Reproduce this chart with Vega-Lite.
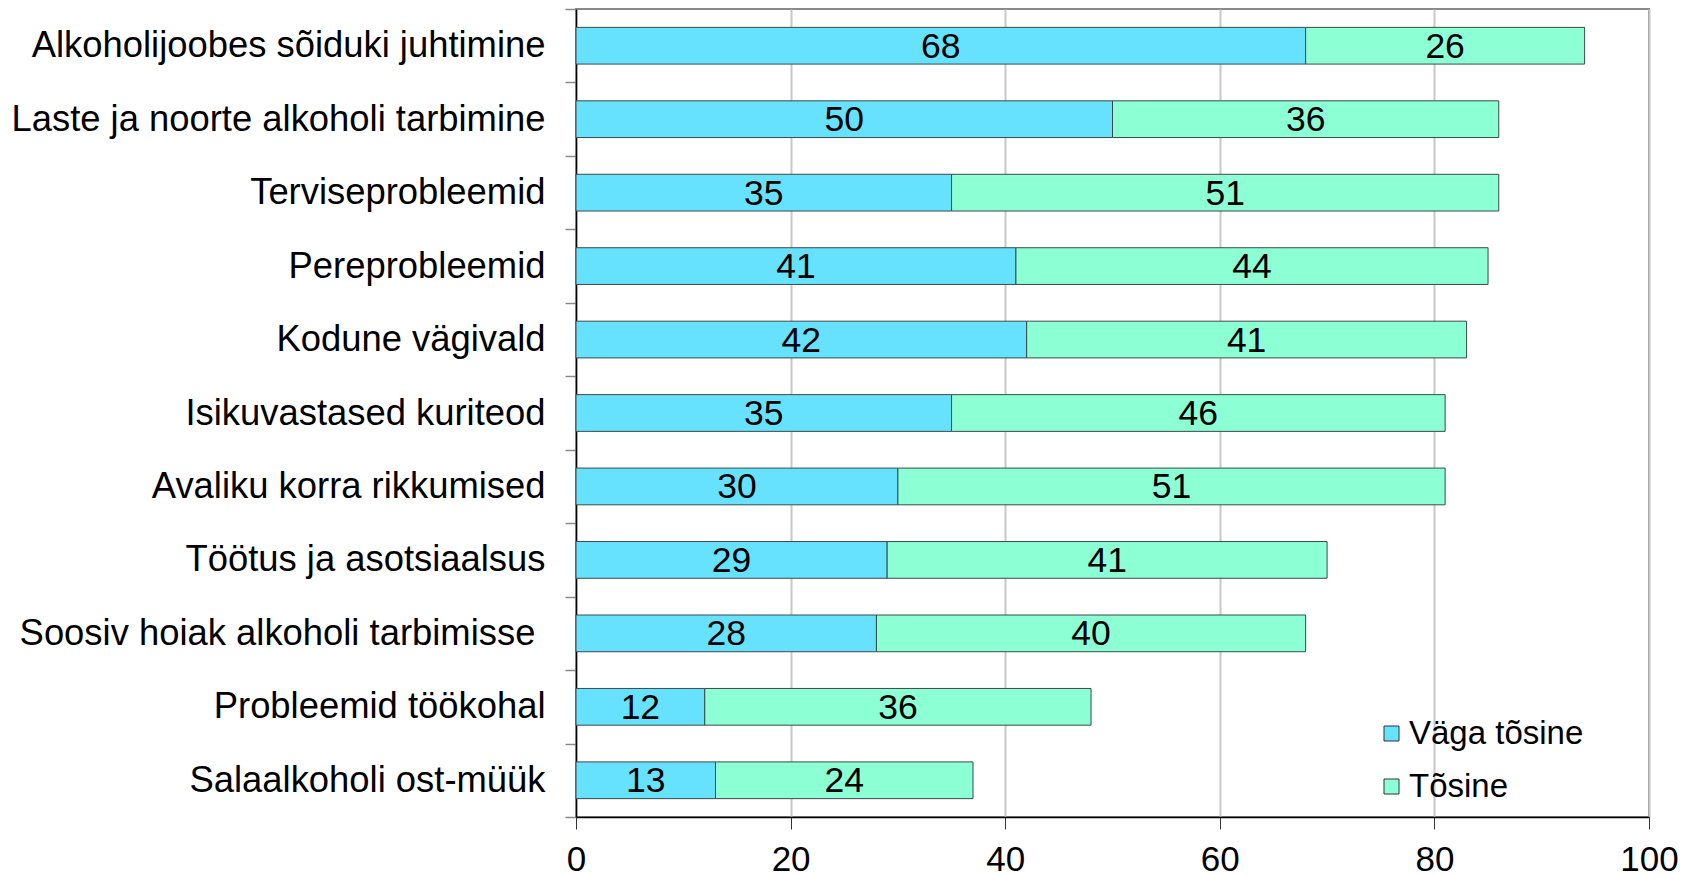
{
  "$schema": "https://vega.github.io/schema/vega-lite/v6.json",
  "width": 1073,
  "height": 808,
  "autosize": {"type": "none"},
  "padding": {"left": 576, "top": 9, "right": 43, "bottom": 60},
  "background": "white",
  "config": {
    "font": "Liberation Sans",
    "view": {"stroke": "#8a8a8a", "strokeWidth": 2}
  },
  "data": {
    "values": [
      {"cat": "Alkoholijoobes sõiduki juhtimine", "series": "Väga tõsine", "value": 68},
      {"cat": "Alkoholijoobes sõiduki juhtimine", "series": "Tõsine", "value": 26},
      {"cat": "Laste ja noorte alkoholi tarbimine", "series": "Väga tõsine", "value": 50},
      {"cat": "Laste ja noorte alkoholi tarbimine", "series": "Tõsine", "value": 36},
      {"cat": "Terviseprobleemid", "series": "Väga tõsine", "value": 35},
      {"cat": "Terviseprobleemid", "series": "Tõsine", "value": 51},
      {"cat": "Pereprobleemid", "series": "Väga tõsine", "value": 41},
      {"cat": "Pereprobleemid", "series": "Tõsine", "value": 44},
      {"cat": "Kodune vägivald", "series": "Väga tõsine", "value": 42},
      {"cat": "Kodune vägivald", "series": "Tõsine", "value": 41},
      {"cat": "Isikuvastased kuriteod", "series": "Väga tõsine", "value": 35},
      {"cat": "Isikuvastased kuriteod", "series": "Tõsine", "value": 46},
      {"cat": "Avaliku korra rikkumised", "series": "Väga tõsine", "value": 30},
      {"cat": "Avaliku korra rikkumised", "series": "Tõsine", "value": 51},
      {"cat": "Töötus ja asotsiaalsus", "series": "Väga tõsine", "value": 29},
      {"cat": "Töötus ja asotsiaalsus", "series": "Tõsine", "value": 41},
      {"cat": "Soosiv hoiak alkoholi tarbimisse\u00a0\u200b", "series": "Väga tõsine", "value": 28},
      {"cat": "Soosiv hoiak alkoholi tarbimisse\u00a0\u200b", "series": "Tõsine", "value": 40},
      {"cat": "Probleemid töökohal", "series": "Väga tõsine", "value": 12},
      {"cat": "Probleemid töökohal", "series": "Tõsine", "value": 36},
      {"cat": "Salaalkoholi ost-müük", "series": "Väga tõsine", "value": 13},
      {"cat": "Salaalkoholi ost-müük", "series": "Tõsine", "value": 24}
    ]
  },
  "encoding": {
    "y": {
      "field": "cat",
      "type": "nominal",
      "sort": null,
      "title": null,
      "scale": {"paddingInner": 0, "paddingOuter": 0},
      "axis": {
        "tickBand": "extent",
        "tickSize": 11,
        "tickColor": "#8a8a8a",
        "tickWidth": 1.5,
        "domainColor": "#000000",
        "domainWidth": 1.5,
        "labelFontSize": 36.4,
        "labelColor": "#000000",
        "labelPadding": 20,
        "labelLimit": 700,
        "grid": false
      }
    }
  },
  "layer": [
    {
      "mark": {"type": "bar", "stroke": "#3a4a4a", "strokeWidth": 1, "height": {"band": 0.5}},
      "encoding": {
        "x": {
          "field": "value",
          "type": "quantitative",
          "stack": "zero",
          "title": null,
          "scale": {"domain": [0, 100], "nice": false},
          "axis": {
            "values": [0, 20, 40, 60, 80, 100],
            "gridColor": "#c8c8c8",
            "gridWidth": 2,
            "tickSize": 12,
            "tickColor": "#333333",
            "tickWidth": 1,
            "domainColor": "#000000",
            "domainWidth": 1.5,
            "labelFontSize": 35,
            "labelColor": "#000000",
            "labelPadding": 13,
            "labelFlush": false
          }
        },
        "color": {
          "field": "series",
          "type": "nominal",
          "scale": {"domain": ["Väga tõsine", "Tõsine"], "range": ["#66e2ff", "#8cffd5"]},
          "legend": {
            "title": null,
            "orient": "none",
            "legendX": 799,
            "legendY": 708,
            "padding": 0,
            "symbolType": "square",
            "symbolSize": 225,
            "symbolStrokeColor": "#333333",
            "symbolStrokeWidth": 1,
            "symbolOpacity": 1,
            "labelFontSize": 33,
            "labelColor": "#000000",
            "labelOffset": 1,
            "labelLimit": 400,
            "rowPadding": 19
          }
        },
        "order": {"field": "series", "sort": "descending"}
      }
    },
    {
      "mark": {"type": "text", "fontSize": 35.5, "color": "#000000", "baseline": "middle", "align": "center", "dy": 1},
      "encoding": {
        "x": {"field": "value", "type": "quantitative", "stack": "zero", "bandPosition": 0.5},
        "detail": {"field": "series"},
        "text": {"field": "value", "type": "quantitative"},
        "order": {"field": "series", "sort": "descending"}
      }
    }
  ]
}
